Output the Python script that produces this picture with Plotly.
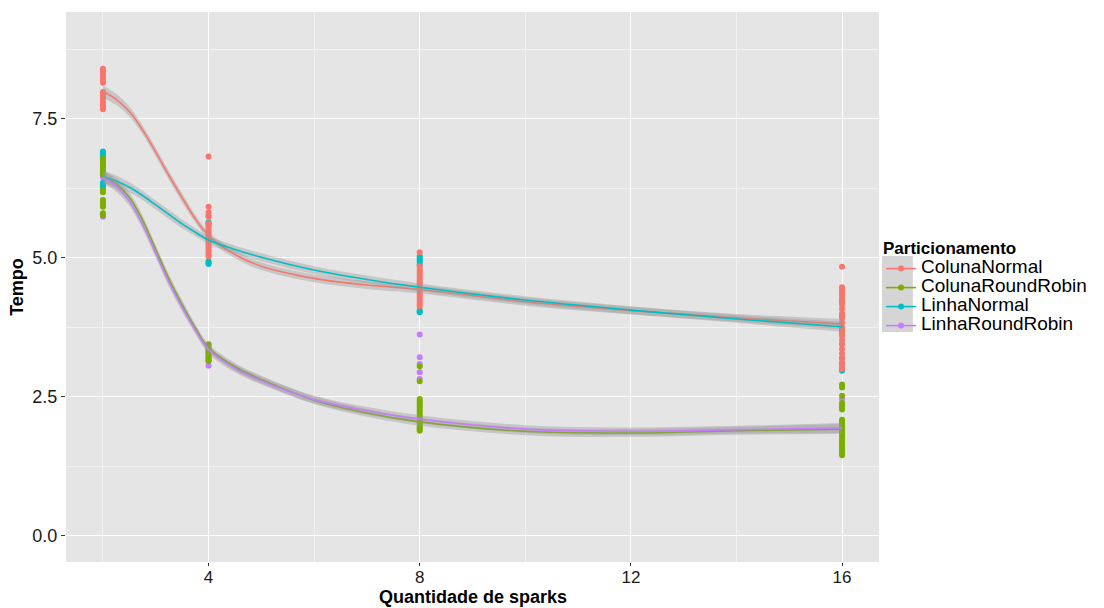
import plotly.graph_objects as go

# ---------------- data ----------------
series_names = ["ColunaNormal", "ColunaRoundRobin", "LinhaNormal", "LinhaRoundRobin"]
series_colors = ["#F8766D", "#7CAE00", "#00BFC4", "#C77CFF"]

# observed points (Tempo) at each quantity of sparks
cn_points = {
    2: [8.40, 8.37, 8.34, 8.31, 8.28, 8.25, 8.22, 8.18, 8.15, 7.98, 7.95, 7.92, 7.89, 7.86, 7.82, 7.78, 7.74, 7.70, 7.67],
    4: [6.82, 5.92, 5.82, 5.76, 5.74, 5.62, 5.58, 5.54, 5.50, 5.46, 5.42, 5.38, 5.34, 5.30, 5.26, 5.22, 5.18, 5.14, 5.10, 5.06, 5.03],
    8: [5.10, 4.85, 4.80, 4.76, 4.72, 4.68, 4.64, 4.60, 4.56, 4.52, 4.48, 4.44, 4.40, 4.36, 4.32, 4.28, 4.24, 4.20, 4.16, 4.13],
    16: [4.84, 4.47, 4.43, 4.38, 4.33, 4.28, 4.22, 4.15, 4.08, 4.00, 3.92, 3.84, 3.76, 3.68, 3.60, 3.52, 3.44, 3.36, 3.28, 3.20, 3.12, 3.05, 3.00],
}
crr_points = {
    2: [6.78, 6.74, 6.70, 6.66, 6.62, 6.58, 6.54, 6.50, 6.22, 6.18, 6.04, 6.00, 5.96, 5.92, 5.80, 5.76],
    4: [3.43, 3.40, 3.37, 3.34, 3.31, 3.28, 3.25, 3.22, 3.19, 3.16, 3.14],
    8: [3.05, 2.78, 2.46, 2.42, 2.38, 2.34, 2.30, 2.26, 2.22, 2.18, 2.14, 2.10, 2.06, 2.02, 1.98, 1.95, 1.92, 1.89],
    16: [3.63, 2.72, 2.67, 2.52, 2.39, 2.35, 2.31, 2.27, 2.09, 2.05, 2.01, 1.97, 1.93, 1.89, 1.85, 1.81, 1.77, 1.73, 1.69, 1.65, 1.61, 1.57, 1.53, 1.49, 1.45],
}
ln_points = {
    2: [6.91, 6.88, 6.85, 6.82, 6.79, 6.76, 6.35, 6.32, 6.29, 6.26],
    4: [5.64, 5.60, 4.94, 4.91, 4.89],
    8: [5.03, 4.99, 4.95, 4.91, 4.87, 4.06, 4.03, 4.02],
    16: [4.24, 4.20, 3.95, 3.70, 3.45, 3.20, 3.10, 2.97],
}
lrr_points = {
    2: [6.48, 6.45, 5.78, 5.74],
    4: [3.45, 3.30, 3.20, 3.06],
    8: [3.62, 3.21, 3.09, 2.94, 2.82, 2.10],
    16: [2.46, 2.05, 1.95, 1.90],
}

# smoothed (loess) curves
smooth_x = [2, 2.25, 2.5, 2.75, 3, 3.25, 3.5, 3.75, 4, 4.5, 5, 6, 7, 8, 10, 12, 14, 16]
cn_smooth = [7.99, 7.85, 7.63, 7.30, 6.90, 6.48, 6.08, 5.70, 5.40, 5.06, 4.85, 4.63, 4.51, 4.43, 4.21, 4.05, 3.92, 3.81]
crr_smooth = [6.46, 6.33, 6.09, 5.68, 5.15, 4.62, 4.16, 3.74, 3.38, 3.04, 2.81, 2.44, 2.21, 2.05, 1.88, 1.85, 1.89, 1.92]
ln_smooth = [6.46, 6.38, 6.27, 6.12, 5.95, 5.78, 5.61, 5.46, 5.32, 5.15, 5.01, 4.78, 4.61, 4.47, 4.24, 4.06, 3.90, 3.76]
lrr_smooth = [6.44, 6.29, 6.02, 5.60, 5.08, 4.56, 4.11, 3.70, 3.35, 3.01, 2.79, 2.45, 2.25, 2.10, 1.92, 1.88, 1.91, 1.94]
# half-width of the confidence band
smooth_se = [0.11, 0.10, 0.09, 0.08, 0.08, 0.08, 0.08, 0.07, 0.07, 0.07, 0.07, 0.07, 0.07, 0.07, 0.07, 0.07, 0.07, 0.09]

x_ticks = [4, 8, 12, 16]
x_minor = [2, 6, 10, 14]
y_ticks = [0, 2.5, 5, 7.5]
y_ticktext = ["0.0", "2.5", "5.0", "7.5"]
y_minor = [1.25, 3.75, 6.25, 8.75]

points = [cn_points, crr_points, ln_points, lrr_points]
smooths = [cn_smooth, crr_smooth, ln_smooth, lrr_smooth]

FONT = "Liberation Sans, Arial, sans-serif"
W, H = 1104, 608
M_L, M_R, M_T, M_B = 66, 222, 12, 46
PW, PH = W - M_L - M_R, H - M_T - M_B


def px_x(p):
    return (p - M_L) / PW


def px_y(p):
    return (H - M_B - p) / PH


fig = go.Figure()

# points (draw order: purple, cyan, green, red)
for idx in [3, 2, 1, 0]:
    xs, ys = [], []
    for xv, vals in points[idx].items():
        xs += [xv] * len(vals)
        ys += vals
    fig.add_trace(go.Scatter(
        x=xs, y=ys, mode="markers", showlegend=False, hoverinfo="skip",
        marker=dict(color=series_colors[idx], size=6, line=dict(width=0)),
    ))

# smooth ribbons + lines
for idx in range(4):
    sm = smooths[idx]
    upper = [v + s for v, s in zip(sm, smooth_se)]
    lower = [v - s for v, s in zip(sm, smooth_se)]
    fig.add_trace(go.Scatter(x=smooth_x, y=upper, mode="lines", line=dict(width=0, shape="spline"),
                             showlegend=False, hoverinfo="skip"))
    fig.add_trace(go.Scatter(x=smooth_x, y=lower, mode="lines", line=dict(width=0, shape="spline"),
                             fill="tonexty", fillcolor="rgba(153,153,153,0.4)",
                             showlegend=False, hoverinfo="skip"))
    fig.add_trace(go.Scatter(x=smooth_x, y=sm, mode="lines",
                             line=dict(color=series_colors[idx], width=1.6, shape="spline"),
                             showlegend=False, hoverinfo="skip"))

# legend entries
for idx in range(4):
    fig.add_trace(go.Scatter(
        x=[None], y=[None], mode="lines+markers",
        name='<span style="font-size:19px">' + series_names[idx] + "</span>",
        line=dict(color=series_colors[idx], width=1.6),
        marker=dict(color=series_colors[idx], size=6),
        legendrank=idx + 1,
    ))

# grey legend-key background (ggplot style)
fig.add_shape(type="rect", xref="paper", yref="paper",
              x0=px_x(885), x1=px_x(916), y0=px_y(332), y1=px_y(256),
              fillcolor="#D5D5D5", line=dict(width=0), layer="below")

# x-axis title as annotation so it sits just below the tick labels
fig.add_annotation(text="<b>Quantidade de sparks</b>", xref="paper", yref="paper",
                   x=0.5, y=px_y(597), xanchor="center", yanchor="middle",
                   showarrow=False, font=dict(size=18, color="black", family=FONT))

fig.update_layout(
    width=W, height=H,
    margin=dict(l=M_L, r=M_R, t=M_T, b=M_B),
    paper_bgcolor="white",
    plot_bgcolor="#E5E5E5",
    font=dict(family=FONT, color="#1a1a1a"),
    legend=dict(
        title=dict(text="<b>Particionamento</b>", font=dict(size=17, color="black")),
        font=dict(size=12, color="black"),
        traceorder="normal",
        x=1.0025, xanchor="left", y=0.6, yanchor="top",
        tracegroupgap=0, itemwidth=30,
        bgcolor="rgba(0,0,0,0)",
    ),
    xaxis=dict(
        range=[1.3, 16.7], tickvals=x_ticks, ticktext=[str(v) for v in x_ticks],
        showgrid=True, gridcolor="white", gridwidth=1.4, zeroline=False, showline=False,
        ticks="outside", ticklen=3, tickcolor="#333333", tickwidth=1,
        tickfont=dict(size=17, color="#1a1a1a"), automargin=False, ticklabelstandoff=-3,
        minor=dict(tickvals=x_minor, showgrid=True, gridcolor="#F2F2F2", gridwidth=0.8),
    ),
    yaxis=dict(
        range=[-0.47, 9.42], tickvals=y_ticks, ticktext=y_ticktext,
        showgrid=True, gridcolor="white", gridwidth=1.4, zeroline=False, showline=False,
        ticks="outside", ticklen=4, tickcolor="#333333", tickwidth=1,
        tickfont=dict(size=18, color="#1a1a1a"), automargin=False,
        minor=dict(tickvals=y_minor, showgrid=True, gridcolor="#F2F2F2", gridwidth=0.8),
        title=dict(text="<b>Tempo</b>", font=dict(size=18, color="black"), standoff=4),
    ),
)

fig.write_html("out.html")
